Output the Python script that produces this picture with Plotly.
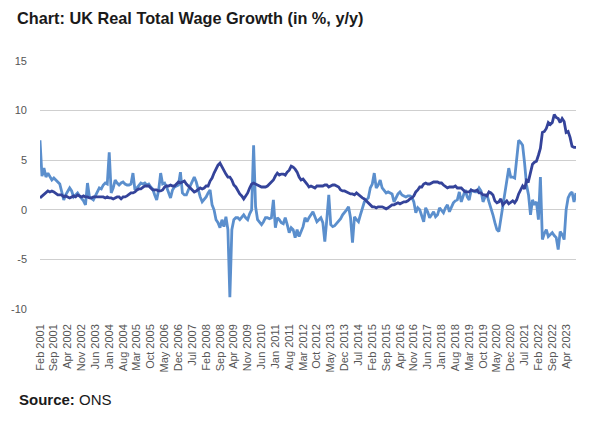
import pandas as pd
import plotly.graph_objects as go

# Monthly data, Feb 2001 - Sep 2023
months = pd.date_range("2001-02-01", periods=272, freq="MS").strftime("%b %Y").tolist()

# Light blue: real total wage growth (% y/y)
real_wage = [
    # 2001 (Feb-Dec)
    7.0, 3.4, 4.2, 3.3, 3.7, 3.4, 3.0, 3.2, 3.0, 2.8, 2.6,
    # 2002
    1.8, 1.0, 1.5, 1.8, 2.2, 1.9, 1.3, 1.5, 1.7, 1.4, 1.2, 0.9,
    # 2003
    0.5, 2.7, 1.3, 1.1, 1.0, 1.4, 1.8, 2.2, 2.1, 2.5, 2.7, 2.6,
    # 2004
    5.8, 1.7, 2.2, 3.0, 2.7, 2.5, 2.7, 2.8, 2.6, 2.5, 2.5, 2.6,
    # 2005
    3.7, 2.0, 2.2, 2.5, 2.7, 2.6, 2.7, 2.5, 2.6, 2.3, 2.1, 1.5,
    # 2006
    1.0, 2.0, 3.7, 2.6, 2.7, 2.3, 1.8, 1.2, 2.0, 2.3, 2.4, 2.5,
    # 2007
    3.8, 1.7, 1.5, 1.5, 2.0, 2.5, 2.8, 3.3, 2.8, 2.0, 1.3, 0.8,
    # 2008
    1.0, 1.3, 1.7, 2.0, 0.5, 0.0, -1.0, -1.3, -1.8, -1.0, -1.7, -0.7,
    # 2009
    -2.0, -8.8, -2.0, -1.0, -0.8, -0.8, -1.0, -0.7, -0.5, -0.8, -1.0, -0.4,
    # 2010
    0.0, 6.5, 0.3, -1.0, -1.2, -1.5, -1.2, -0.8, -0.8, -0.9, -0.8, 1.0,
    # 2011
    -1.8, -0.8, -1.0, -1.3, -1.4, -0.8, -1.5, -2.3, -1.8, -2.0, -2.8, -2.0,
    # 2012
    -2.7, -2.2, -1.7, -0.8, -1.2, -0.8, -0.5, -0.2, -0.7, -1.2, -1.0, -0.8,
    # 2013
    -1.3, -3.2, -1.0, 1.5, -1.5, -1.7, -1.6, -1.4, -1.2, -0.9, -0.5, -0.3,
    # 2014
    0.0, 0.3, -0.8, -3.3, -0.7, -1.0, -1.2, -0.5, 0.3, 0.8, 1.0, 1.2,
    # 2015
    2.2, 2.6, 3.7, 2.2, 2.5, 3.0, 2.2, 1.9, 1.7, 1.8, 1.7, 1.6,
    # 2016
    0.8, 1.2, 1.6, 1.8, 1.5, 1.4, 1.3, 1.4, 1.4, 1.3, 0.8, -0.3,
    # 2017
    0.2, 0.0, -0.6, -1.2, 0.2, -0.2, -0.8, -0.5, -0.2, -0.7, -0.5, 0.2,
    # 2018
    -0.1, -0.3, 0.2, 0.5, -0.2, 0.3, 0.7, 0.9, 1.0, 1.8, 0.8, 1.4,
    # 2019
    2.0, 1.3, 1.0, 2.0, 1.9, 1.8, 1.8, 2.2, 1.9, 0.8, 1.3, 1.5,
    # 2020
    0.8, 0.2, -0.5, -1.3, -2.0, -2.2, -1.0, 0.2, 1.7, 2.8, 4.2, 3.3,
    # 2021
    3.3, 3.2, 5.0, 7.0, 6.8, 6.5, 4.7, 2.5, 1.5, -0.5, 1.0, 0.5,
    # 2022
    0.8, -1.0, 3.3, -3.0, -2.4, -2.0, -2.7, -2.5, -2.3, -2.6, -2.8, -4.0,
    # 2023 (Jan-Sep)
    -2.2, -2.5, -3.0, 0.0, 1.2, 1.6, 1.8, 0.8, 1.7,
]

# Dark blue: inflation (% y/y)
inflation = [
    # 2001 (Feb-Dec)
    1.2, 1.4, 1.6, 1.8, 1.9, 1.8, 1.9, 1.8, 1.6, 1.5, 1.5,
    # 2002
    1.5, 1.3, 1.4, 1.3, 1.2, 1.3, 1.4, 1.3, 1.5, 1.4, 1.3, 1.4,
    # 2003
    1.3, 1.3, 1.2, 1.2, 1.3, 1.3, 1.3, 1.3, 1.3, 1.3, 1.2, 1.3,
    # 2004
    1.2, 1.2, 1.1, 1.2, 1.3, 1.3, 1.1, 1.3, 1.3, 1.4, 1.6, 1.7,
    # 2005
    1.7, 1.8, 2.0, 2.1, 2.1, 2.3, 2.4, 2.4, 2.4, 2.2, 2.0, 2.0,
    # 2006
    2.0, 1.9, 1.9, 2.0, 2.3, 2.4, 2.4, 2.5, 2.4, 2.4, 2.6, 2.8,
    # 2007
    2.7, 2.8, 2.9, 2.6, 2.4, 2.2, 1.9, 1.8, 1.9, 2.1, 2.2, 2.1,
    # 2008
    2.2, 2.4, 2.4, 2.9, 3.2, 3.7, 4.2, 4.5, 4.7, 4.3, 3.9, 3.6,
    # 2009
    3.3, 3.3, 3.0, 2.5, 2.3, 1.9, 1.6, 1.4, 1.1, 1.4, 1.7, 2.2,
    # 2010
    2.6, 2.7, 2.6, 2.5, 2.4, 2.3, 2.3, 2.3, 2.4, 2.6, 2.8, 3.0,
    # 2011
    3.4, 3.7, 3.5, 3.6, 3.6, 3.5, 3.8, 4.0, 4.4, 4.3, 4.1, 3.8,
    # 2012
    3.3, 3.0, 3.1, 2.9, 2.6, 2.3, 2.4, 2.3, 2.2, 2.4, 2.4, 2.4,
    # 2013
    2.4, 2.5, 2.5, 2.3, 2.4, 2.5, 2.5, 2.4, 2.3, 2.0, 1.9, 1.9,
    # 2014
    1.8, 1.7, 1.6, 1.6, 1.5, 1.7, 1.5, 1.4, 1.2, 1.1, 0.9, 0.8,
    # 2015
    0.5, 0.3, 0.3, 0.2, 0.3, 0.3, 0.3, 0.2, 0.1, 0.2, 0.4, 0.5,
    # 2016
    0.5, 0.6, 0.7, 0.6, 0.7, 0.8, 0.8, 0.9, 1.1, 1.2, 1.4, 1.8,
    # 2017
    2.0, 2.3, 2.3, 2.6, 2.7, 2.6, 2.6, 2.7, 2.8, 2.8, 2.8, 2.7,
    # 2018
    2.7, 2.5, 2.3, 2.2, 2.3, 2.3, 2.3, 2.4, 2.2, 2.2, 2.2, 2.0,
    # 2019
    1.8, 1.8, 1.8, 2.0, 1.9, 1.9, 2.0, 1.7, 1.7, 1.5, 1.5, 1.4,
    # 2020
    1.8, 1.7, 1.5, 0.9, 0.7, 0.8, 1.1, 0.5, 0.7, 0.9, 0.6, 0.8,
    # 2021
    0.9, 0.7, 1.0, 1.6, 2.1, 2.4, 2.1, 3.0, 2.9, 3.8, 4.6, 4.8,
    # 2022
    4.9, 5.5, 6.2, 7.8, 7.9, 8.2, 8.8, 8.6, 8.8, 9.6, 9.3, 9.2,
    # 2023 (Jan-Sep)
    8.8, 9.2, 8.9, 7.8, 7.9, 7.3, 6.4, 6.3, 6.3,
]

x_tick_labels = [
    "Feb 2001", "Sep 2001", "Apr 2002", "Nov 2002", "Jun 2003", "Jan 2004",
    "Aug 2004", "Mar 2005", "Oct 2005", "May 2006", "Dec 2006", "Jul 2007",
    "Feb 2008", "Sep 2008", "Apr 2009", "Nov 2009", "Jun 2010", "Jan 2011",
    "Aug 2011", "Mar 2012", "Oct 2012", "May 2013", "Dec 2013", "Jul 2014",
    "Feb 2015", "Sep 2015", "Apr 2016", "Nov 2016", "Jun 2017", "Jan 2018",
    "Aug 2018", "Mar 2019", "Oct 2019", "May 2020", "Dec 2020", "Jul 2021",
    "Feb 2022", "Sep 2022", "Apr 2023",
]
y_tick_vals = [15, 10, 5, 0, -5, -10]
y_tick_text = ["15", "10", "5", "0", "-5", "-10"]

FONT = "Liberation Sans, Arial, sans-serif"
OFF = 8  # page body margin
W, H = 592 - OFF, 424 - OFF
L, R = 40 - OFF, 16
T = 61 - OFF
B = H - (309 - OFF)
GRAY = "#555555"

fig = go.Figure()
fig.add_trace(go.Scatter(
    x=months, y=real_wage, mode="lines", name="Real total wage growth",
    line=dict(color="#5B8FCD", width=2.8), hoverinfo="x+y",
))
fig.add_trace(go.Scatter(
    x=months, y=inflation, mode="lines", name="Inflation",
    line=dict(color="#34439A", width=2.8), hoverinfo="x+y",
))

fig.update_layout(
    width=W, height=H,
    margin=dict(l=L, r=R, t=T, b=B, autoexpand=False),
    paper_bgcolor="white", plot_bgcolor="white",
    showlegend=False,
    font=dict(family=FONT, color=GRAY, size=11),
    title=dict(
        text="<b>Chart: UK Real Total Wage Growth (in %, y/y)</b>",
        xref="container", yref="container",
        x=(17 - OFF) / W, xanchor="left",
        y=1 - (13 - OFF) / H, yanchor="top",
        font=dict(family=FONT, size=16.3, color="#1a1a1a"),
    ),
    xaxis=dict(
        type="category",
        range=[0, len(months) - 1],
        tickmode="array",
        tickvals=x_tick_labels,
        ticktext=x_tick_labels,
        tickangle=-90,
        showgrid=False, zeroline=False, showline=False,
        ticks="",
        color=GRAY,
        tickfont=dict(family=FONT, size=11, color=GRAY),
        ticklabelstandoff=12,
    ),
    yaxis=dict(
        range=[-10, 15],
        tickmode="array",
        tickvals=y_tick_vals,
        ticktext=y_tick_text,
        showgrid=True, gridcolor="#cfcfcf", gridwidth=1,
        zeroline=True, zerolinecolor="#cfcfcf", zerolinewidth=1,
        showline=False, ticks="",
        color=GRAY,
        tickfont=dict(family=FONT, size=11, color=GRAY),
        ticklabelstandoff=12,
    ),
    annotations=[dict(
        text="<b>Source:</b> ONS",
        xref="paper", yref="paper",
        x=(17 - 40) / (576 - 40), xanchor="left",
        y=(309 - 399) / (309 - 61), yanchor="middle",
        showarrow=False,
        font=dict(family=FONT, size=15, color="#1a1a1a"),
    )],
)

fig.write_html("out.html")
